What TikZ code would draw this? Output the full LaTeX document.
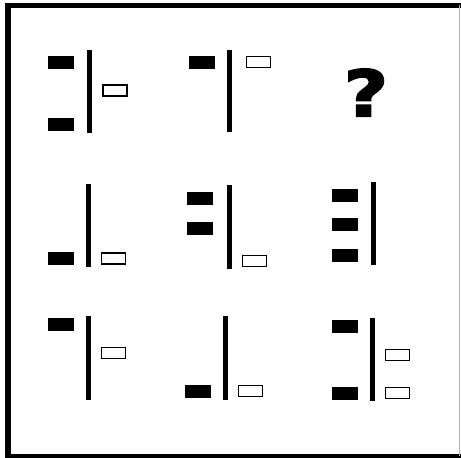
\documentclass[tikz,border=0pt]{standalone}
\usepackage{fontspec}
\setmainfont{Liberation Sans}
\newfontfamily\qfont[BoldFeatures={FakeBold=2.5}]{DejaVu Sans}
\begin{document}
\begin{tikzpicture}[x=1pt,y=-1pt,
  blk/.style={fill=black, draw=none, minimum width=26pt, minimum height=13pt, inner sep=0pt, outer sep=0pt},
  wht/.style={fill=white, draw=black, line width=1.3pt, minimum width=24pt, minimum height=11pt, inner sep=0pt, outer sep=0pt},
  bar/.style={line width=5pt, line cap=butt},
  frame/.style={line width=5.5pt, line cap=butt}]
\useasboundingbox (0,0) rectangle (461,458);
% frame
\coordinate (fTL) at (8,2.5);
\coordinate (fBL) at (8,458);
\coordinate (tL) at (5,5.5);
\coordinate (tR) at (461,5.5);
\coordinate (bL) at (5,456);
\coordinate (bR) at (461,456);
\coordinate (rT) at (459.8,5);
\coordinate (rB) at (459.8,456);
\draw[frame] (fTL) -- (fBL);
\draw[frame] (tL) -- (tR);
\draw[frame,line width=5pt] (bL) -- (bR);
\draw[gray!60,line width=0.8pt] (rT) -- (rB);
% cell 1
\node[blk] (a1) at (60.7,62.2) {};
\node[blk] (a2) at (60.7,124.7) {};
\coordinate (a3) at (89.7,50);
\coordinate (a4) at (89.7,132.7);
\draw[bar] (a3) -- (a4);
\node[wht] (a5) at (115,90.5) {};
% cell 2
\node[blk] (b1) at (201.8,62.2) {};
\coordinate (b3) at (229.5,50);
\coordinate (b4) at (229.5,132.2);
\draw[bar] (b3) -- (b4);
\node[wht] (b5) at (258.2,62.2) {};
% cell 3
\node[inner sep=0pt, font=\qfont\bfseries\fontsize{64}{64}\selectfont] (q) at (366,92.5) {\scalebox{1.2}[1]{?}};
% cell 4
\coordinate (c3) at (88,184);
\coordinate (c4) at (88,267.3);
\draw[bar] (c3) -- (c4);
\node[blk] (c1) at (60.7,258.7) {};
\node[wht] (c5) at (113.3,258.5) {};
% cell 5
\node[blk] (d1) at (199.7,198.2) {};
\node[blk] (d2) at (199.7,228.2) {};
\coordinate (d3) at (229.5,185);
\coordinate (d4) at (229.5,268.7);
\draw[bar] (d3) -- (d4);
\node[wht] (d5) at (254.5,260.7) {};
% cell 6
\node[blk] (e1) at (345,195) {};
\node[blk] (e2) at (345,224.5) {};
\node[blk] (e6) at (345,255) {};
\coordinate (e3) at (373.7,181.7);
\coordinate (e4) at (373.7,265.3);
\draw[bar] (e3) -- (e4);
% cell 7
\node[blk] (f1) at (60.7,324.7) {};
\coordinate (f3) at (88,316.3);
\coordinate (f4) at (88,399.7);
\draw[bar] (f3) -- (f4);
\node[wht] (f5) at (113.3,353.2) {};
% cell 8
\coordinate (g3) at (225.7,316.3);
\coordinate (g4) at (225.7,399.7);
\draw[bar] (g3) -- (g4);
\node[blk] (g1) at (197.8,391) {};
\node[wht] (g5) at (250.7,390.8) {};
% cell 9
\node[blk] (h1) at (345,326.7) {};
\node[blk] (h2) at (345,393) {};
\coordinate (h3) at (372,318);
\coordinate (h4) at (372,401.3);
\draw[bar] (h3) -- (h4);
\node[wht] (h5) at (397.7,355) {};
\node[wht] (h6) at (397.7,392.8) {};
\end{tikzpicture}
\end{document}
